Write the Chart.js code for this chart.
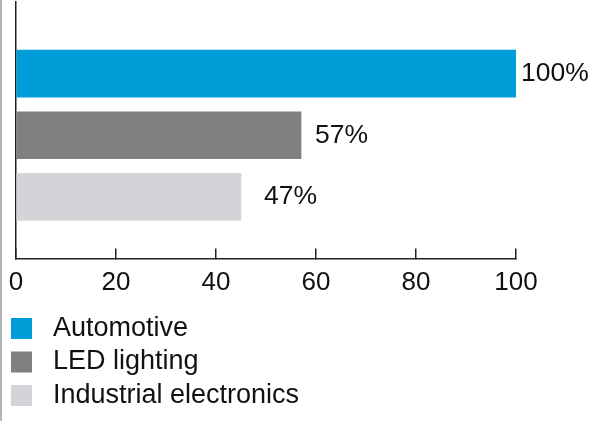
<!DOCTYPE html>
<html>
<head>
<meta charset="utf-8">
<script src="https://cdn.jsdelivr.net/npm/chart.js@4"></script>
<style>
html,body{margin:0;padding:0;background:#fff}
#wrap{position:relative;width:597px;height:421px}
#edge{position:absolute;left:0;top:0;width:2px;height:421px;background:#b3b3b3}
canvas{display:block}
</style>
</head>
<body>
<div id="wrap"><canvas id="c" width="597" height="421"></canvas><div id="edge"></div></div>
<script>
// ---- data ----
const categories = ['Automotive', 'LED lighting', 'Industrial electronics'];
const values = [100, 57, 45];
const valueLabels = ['100%', '57%', '47%'];
const slots = [1, 2, 3];
const xTickStep = 20;

// ---- styles ----
const FAM = "'Liberation Sans', Arial, Helvetica, sans-serif";
const colors = ['#009dd9', '#808083', '#d4d4d8'];
const labelGap = [5, 14, 23];
const LEGEND_WRAP = 320;

const legendWrap = {
  id: 'legendWrap',
  beforeLayout(chart) {
    const lg = chart.legend;
    if (lg && !lg.__wrapped) {
      const orig = lg._fitRows;
      lg._fitRows = function (...args) {
        const mw = this.maxWidth;
        this.maxWidth = Math.min(mw, LEGEND_WRAP);
        try { return orig.apply(this, args); } finally { this.maxWidth = mw; }
      };
      lg.__wrapped = true;
    }
  },
  afterLayout(chart) {
    const lg = chart.legend;
    if (lg) { lg.right = lg.left + LEGEND_WRAP; lg.width = LEGEND_WRAP; }
  }
};

const valueLabelPlugin = {
  id: 'valueLabels',
  afterDatasetsDraw(chart) {
    const ctx = chart.ctx;
    ctx.save();
    ctx.font = '26.5px ' + FAM;
    ctx.fillStyle = '#111';
    ctx.textBaseline = 'middle';
    ctx.textAlign = 'left';
    categories.forEach((c, i) => {
      const el = chart.getDatasetMeta(i).data[0];
      if (el) ctx.fillText(valueLabels[i], el.x + labelGap[i], el.y);
    });
    ctx.restore();
  }
};

new Chart(document.getElementById('c'), {
  type: 'bar',
  data: {
    datasets: categories.map((c, i) => ({
      label: c,
      data: [{ x: values[i], y: slots[i] }],
      backgroundColor: colors[i],
      borderWidth: 0,
      grouped: false,
      barThickness: 47
    }))
  },
  options: {
    indexAxis: 'y',
    responsive: false,
    animation: false,
    devicePixelRatio: 1,
    events: [],
    layout: { padding: { top: 2, left: 4.5, right: 81, bottom: 2 } },
    scales: {
      x: {
        type: 'linear', min: 0, max: 100, position: 'bottom', z: 1,
        ticks: { stepSize: xTickStep, color: '#111', font: { size: 26, family: FAM, lineHeight: 2 }, padding: 8, maxRotation: 0, autoSkip: false },
        grid: { display: true, drawOnChartArea: false, drawTicks: true, tickLength: -10, color: '#222', lineWidth: 1.5 },
        border: { display: true, color: '#222', width: 1.5 },
        afterFit(s) { s.height = 50; }
      },
      y: {
        type: 'linear', reverse: true, min: -0.163, max: 4, position: 'left', z: 1,
        offset: false,
        ticks: { display: false },
        grid: { display: false, offset: false },
        border: { display: true, color: '#222', width: 1.5 },
        afterBuildTicks(s) { s.ticks = slots.map(v => ({ value: v })); },
        afterFit(s) { s.width = 11.5; }
      }
    },
    plugins: {
      tooltip: { enabled: false },
      legend: {
        display: true, position: 'bottom', align: 'start',
        labels: {
          boxWidth: 21, boxHeight: 21, padding: 6.5, color: '#111',
          font: { size: 27, family: FAM },
          generateLabels(chart) {
            return Chart.defaults.plugins.legend.labels.generateLabels(chart)
              .map(l => Object.assign({}, l, { text: ' ' + l.text }));
          }
        }
      }
    }
  },
  plugins: [legendWrap, valueLabelPlugin]
});
</script>
</body>
</html>
